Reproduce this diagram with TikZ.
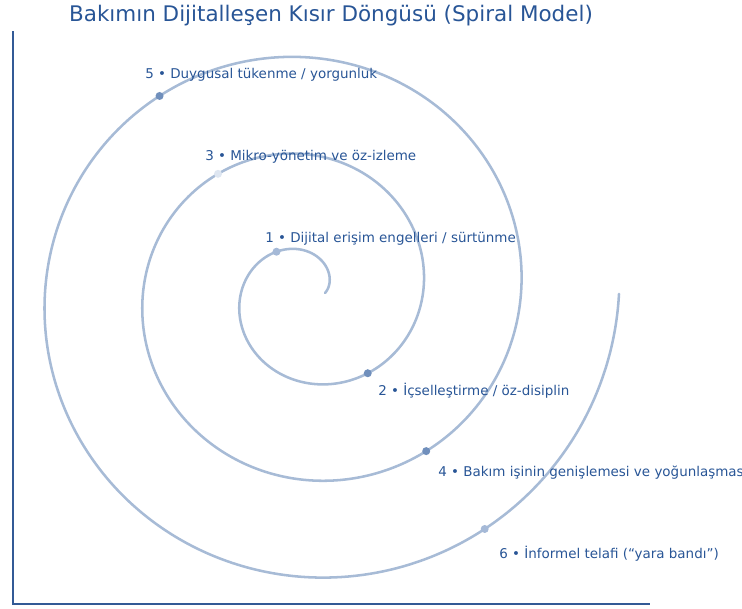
\documentclass[tikz,border=0pt]{standalone}
\usepackage{fontspec}
\setmainfont{DejaVu Sans}
\definecolor{txtblue}{RGB}{40,85,150}
\definecolor{axisblue}{RGB}{50,90,150}
\definecolor{spiralc}{RGB}{167,187,214}
\definecolor{mdark}{RGB}{112,143,188}
\definecolor{mlight}{RGB}{165,185,215}
\definecolor{mpale}{RGB}{222,230,241}
\tikzset{
  lbl/.style={anchor=mid west, text=txtblue, font=\fontsize{10.1}{12}\selectfont, inner sep=0pt},
  dot/.style={circle, inner sep=0pt, minimum size=6pt, draw=none},
}
\newcommand{\spx}[1]{307.5+(17.5+15.6*(#1))*cos((#1) r)}
\newcommand{\spy}[1]{293-0.99*(17.5+15.6*(#1))*sin((#1) r)}
\begin{document}
\begin{tikzpicture}[x=0.75pt,y=-0.75pt]
\useasboundingbox (0,0) rectangle (742,608);
% axes
\draw[axisblue, line width=1.1pt] (13,31) -- (13,604) -- (650,604);
% title
\node[anchor=mid, text=txtblue, font=\fontsize{16.1}{19}\selectfont, inner sep=0pt] (title) at (331,18) {Bakımın Dijitalleşen Kısır Döngüsü (Spiral Model)};
% spiral
\draw[spiralc, line width=1.9pt, line cap=round] plot[variable=\t, domain=0:18.8496, samples=700, smooth] ({\spx{\t}}, {\spy{\t}});
% markers
\node[dot, fill=mlight] (m1) at ({\spx{2.21}}, {\spy{2.21}}) {};
\node[dot, fill=mdark]  (m2) at ({\spx{5.3516}}, {\spy{5.3516}}) {};
\node[dot, fill=mpale]  (m3) at ({\spx{8.4932}}, {\spy{8.4932}}) {};
\node[dot, fill=mdark]  (m4) at ({\spx{11.6348}}, {\spy{11.6348}}) {};
\node[dot, fill=mdark]  (m5) at ({\spx{14.7764}}, {\spy{14.7764}}) {};
\node[dot, fill=mlight] (m6) at ({\spx{17.918}}, {\spy{17.918}}) {};
% labels
\node[lbl] (l1) at (265,238.5) {1 • Dijital erişim engelleri / sürtünme};
\node[lbl] (l2) at (378,391.5) {2 • İçselleştirme / öz-disiplin};
\node[lbl] (l3) at (205,156.5) {3 • Mikro-yönetim ve öz-izleme};
\node[lbl] (l4) at (438,472.5) {4 • Bakım işinin genişlemesi ve yoğunlaşması};
\node[lbl] (l5) at (145,74.5) {5 • Duygusal tükenme / yorgunluk};
\node[lbl] (l6) at (499,554.5) {6 • İnformel telafi (“yara bandı”)};
\end{tikzpicture}
\end{document}
